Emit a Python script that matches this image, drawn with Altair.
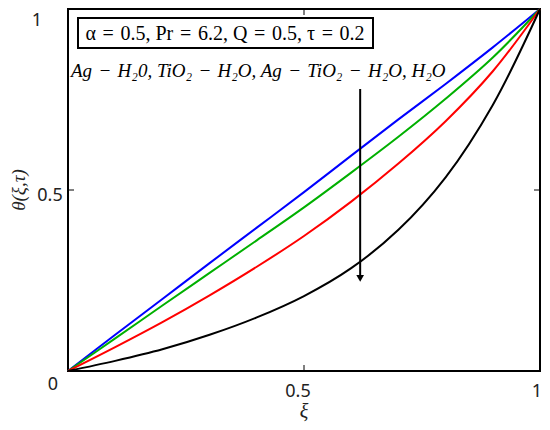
import altair as alt
import pandas as pd

# ---------------- data ----------------
xi = [0.0, 0.1, 0.2, 0.3, 0.4, 0.5, 0.6, 0.7, 0.8, 0.9, 1.0]
theta_ag_h2o = [0.0, 0.100, 0.199, 0.298, 0.396, 0.494, 0.595, 0.695, 0.793, 0.894, 1.0]
theta_tio2_h2o = [0.0, 0.090, 0.181, 0.271, 0.361, 0.452, 0.548, 0.647, 0.752, 0.866, 1.0]
theta_ag_tio2_h2o = [0.0, 0.066, 0.135, 0.209, 0.288, 0.373, 0.468, 0.573, 0.690, 0.828, 1.0]
theta_h2o = [0.0, 0.028, 0.060, 0.100, 0.148, 0.207, 0.284, 0.390, 0.535, 0.735, 1.0]

series_names = ["Ag-H2O", "TiO2-H2O", "Ag-TiO2-H2O", "H2O"]
series_colors = ["#0000ff", "#00b000", "#ff0000", "#000000"]
series_values = [theta_ag_h2o, theta_tio2_h2o, theta_ag_tio2_h2o, theta_h2o]

arrow_xi = [0.619]
arrow_top = [0.779]
arrow_bottom = [0.262]
arrow_head = [0.256]

sp = "\u2004"
param_text = f"α{sp}={sp}0.5, Pr{sp}={sp}6.2, Q{sp}={sp}0.5, τ{sp}={sp}0.2"
fluid_text = f"Ag{sp}−{sp}H₂0, TiO₂{sp}−{sp}H₂O, Ag{sp}−{sp}TiO₂{sp}−{sp}H₂O, H₂O"

W, H = 472, 362

rows = []
for name, vals in zip(series_names, series_values):
    for x, y in zip(xi, vals):
        rows.append({"xi": x, "theta": y, "series": name})
df = pd.DataFrame(rows)

xscale = alt.Scale(domain=[0, 1], nice=False, zero=False)
yscale = alt.Scale(domain=[0, 1], nice=False, zero=False)

lines = alt.Chart(df).mark_line(strokeWidth=2, interpolate="catmull-rom").encode(
    x=alt.X("xi:Q", scale=xscale, axis=None),
    y=alt.Y("theta:Q", scale=yscale, axis=None),
    color=alt.Color("series:N", scale=alt.Scale(domain=series_names, range=series_colors), legend=None),
)

one = pd.DataFrame({"a": [0]})

box = alt.Chart(one).mark_rect(fill="white", stroke="black", strokeWidth=2).encode(
    x=alt.value(10), x2=alt.value(305), y=alt.value(9), y2=alt.value(39)
)
box_text = alt.Chart(one).mark_text(font="Liberation Serif", fontSize=20, color="black").encode(
    x=alt.value(157), y=alt.value(25), text=alt.value(param_text)
)
fluid = alt.Chart(one).mark_text(font="Liberation Serif", fontSize=19, fontStyle="italic",
                                  align="left", color="black").encode(
    x=alt.value(3), y=alt.value(62), text=alt.value(fluid_text)
)

arrow_df = pd.DataFrame({"x": arrow_xi, "y1": arrow_top, "y2": arrow_bottom, "yh": arrow_head})
arrow = alt.Chart(arrow_df).mark_rule(strokeWidth=2, color="black").encode(
    x="x:Q", y="y1:Q", y2="y2:Q"
)
head = alt.Chart(arrow_df).mark_point(shape="triangle-down", filled=True, size=60,
                                      color="black", opacity=1).encode(
    x="x:Q", y="yh:Q"
)

# inward ticks at 0.5
tick_b = alt.Chart(one).mark_rule(color="black", strokeWidth=1).encode(
    x=alt.datum(0.5), y=alt.value(H), y2=alt.value(H - 6))
tick_t = alt.Chart(one).mark_rule(color="black", strokeWidth=1).encode(
    x=alt.datum(0.5), y=alt.value(0), y2=alt.value(6))
tick_l = alt.Chart(one).mark_rule(color="black", strokeWidth=1).encode(
    y=alt.datum(0.5), x=alt.value(0), x2=alt.value(6))
tick_r = alt.Chart(one).mark_rule(color="black", strokeWidth=1).encode(
    y=alt.datum(0.5), x=alt.value(W - 6), x2=alt.value(W))

# tick labels
def lab(xv, yv, text, dx, dy):
    return alt.Chart(one).mark_text(font="Noto Sans", fontSize=18, color="#222222",
                                    dx=dx, dy=dy).encode(
        x=alt.datum(xv), y=alt.datum(yv), text=alt.value(text))

labels = [
    lab(0, 1, "1", -31, 12),
    lab(0, 0.5, "0.5", -18, 6),
    lab(0, 0, "0", -15, 14),
    lab(0.5, 0, "0.5", -6, 21),
    lab(1, 0, "1", -3, 21),
]

xtitle = alt.Chart(one).mark_text(font="Liberation Serif", fontSize=20, fontStyle="italic",
                                  color="#222222", dy=41).encode(
    x=alt.datum(0.5), y=alt.datum(0), text=alt.value("ξ"))
ytitle = alt.Chart(one).mark_text(font="Liberation Serif", fontSize=19, fontStyle="italic",
                                  color="#222222", angle=270, baseline="middle").encode(
    x=alt.value(-49), y=alt.datum(0.5), text=alt.value("θ(ξ,τ)"))

chart = alt.layer(
    lines, arrow, head, tick_b, tick_t, tick_l, tick_r, box, box_text, fluid,
    *labels, xtitle, ytitle
).properties(
    width=W, height=H,
    autosize=alt.AutoSizeParams(type="none"),
    padding={"left": 60, "top": 1, "right": 2, "bottom": 51},
).configure_view(stroke="black", strokeWidth=2)

chart.save("out.html", embed_options={"renderer": "svg", "actions": False})
